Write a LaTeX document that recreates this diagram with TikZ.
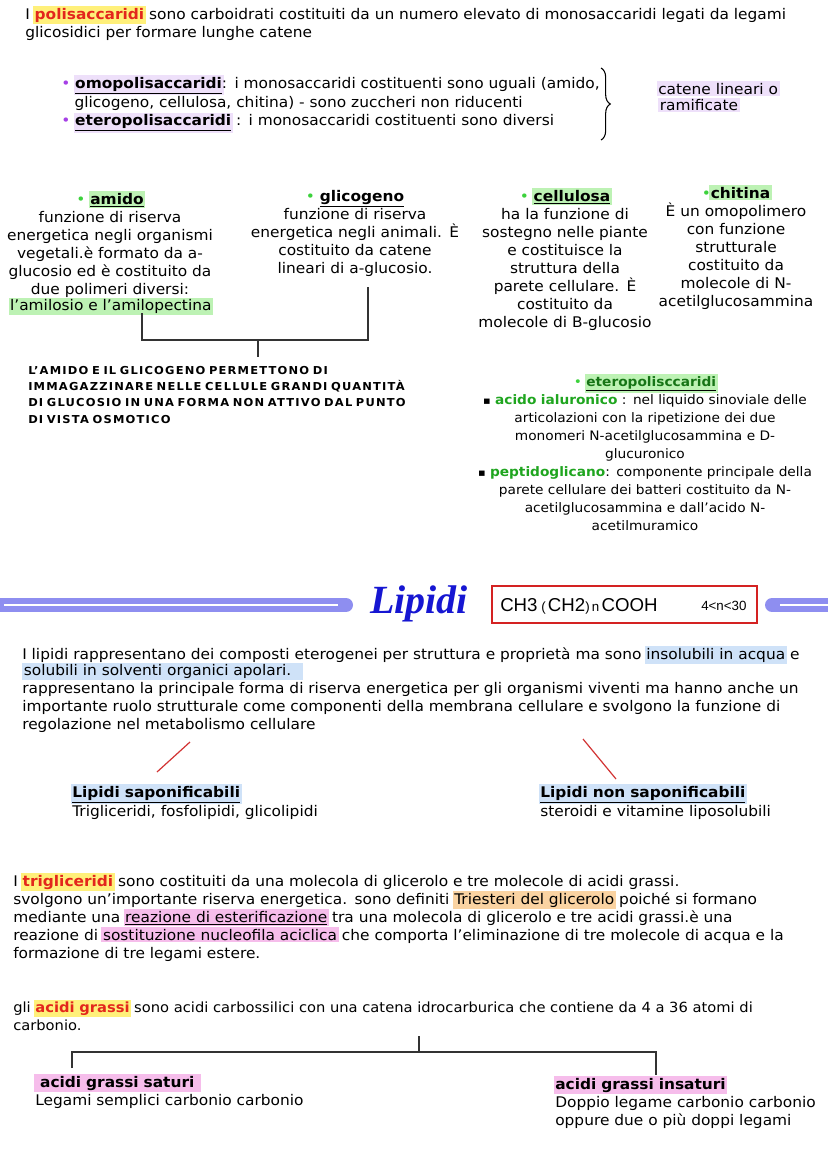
\documentclass[tikz,border=0pt]{standalone}
\usepackage{fontspec}
\setmainfont{DejaVu Sans}[FakeStretch=1.05]
\newfontfamily\lipidfont{Liberation Serif}
\newfontfamily\formfont{Liberation Sans}
\usetikzlibrary{decorations.pathreplacing}
\definecolor{termred}{HTML}{E3261C}
\definecolor{hlyellow}{HTML}{FFF07A}
\definecolor{bulpurple}{HTML}{A640E6}
\definecolor{hlpurple}{HTML}{EEE0FA}
\definecolor{hlgreen}{HTML}{BDF2B4}
\definecolor{tgreen}{HTML}{1FA51F}
\definecolor{bulgreen}{HTML}{3CD23C}
\definecolor{hlblue}{HTML}{CFE2F8}
\definecolor{hlorange}{HTML}{FAD3A2}
\definecolor{hlpink}{HTML}{F6BDEB}
\definecolor{bandcol}{HTML}{8E8EF0}
\definecolor{lipblue}{HTML}{1616D2}
\definecolor{boxred}{HTML}{D42222}
\definecolor{linered}{HTML}{D23434}
\newcommand\hlbox[2]{\begingroup\setlength\fboxsep{1.2pt}\kern-1.2pt\colorbox{#1}{#2}\kern-1.2pt\endgroup}
\newcommand\term[1]{\textcolor{termred}{\bfseries #1}}
\newcommand\sqbul{{\fontsize{8}{8}\selectfont ▪}}
\tikzset{
  body/.style={inner sep=0pt, font=\fontsize{11}{13.5}\selectfont},
  leftpar/.style={body, anchor=base west, align=left, text width=640pt},
  colpar/.style={body, anchor=base, align=center, text width=200pt},
  capspar/.style={inner sep=0pt, anchor=base west, align=left, text width=400pt,
     font=\fontsize{8.2}{12.3}\selectfont\bfseries\addfontfeature{LetterSpace=11}},
  conn/.style={draw=black!80, line width=0.8pt},
  redconn/.style={draw=linered, line width=0.9pt},
}
\begin{document}
\begin{tikzpicture}[x=0.75pt,y=-0.75pt]
\useasboundingbox[fill=white] (0,0) rectangle (828,1171);

% --- polisaccaridi
\node[leftpar] (poli) at (25,19) {I \hlbox{hlyellow}{\term{polisaccaridi}} sono carboidrati costituiti da un numero elevato di monosaccaridi legati da legami\\glicosidici per formare lunghe catene};

\node[leftpar] (omo) at (61,88) {\textcolor{bulpurple}{•}\ \hlbox{hlpurple}{\underline{\bfseries omopolisaccaridi}}: i monosaccaridi costituenti sono uguali (amido,\\\hspace*{10pt}glicogeno, cellulosa, chitina) - sono zuccheri non riducenti\\\textcolor{bulpurple}{•}\ \hlbox{hlpurple}{\underline{\bfseries eteropolisaccaridi}} : i monosaccaridi costituenti sono diversi};
\coordinate (brT) at (601,68);
\coordinate (brB) at (601,140);
\draw[line width=0.8pt, decorate, decoration={brace, amplitude=7pt}] (brT) -- (brB);
\node[leftpar] (catene) at (658,94) {\hlbox{hlpurple}{catene lineari o}\\\hlbox{hlpurple}{ramificate}};

% --- four columns
\node[colpar] (amido) at (110,204) {\textcolor{bulgreen}{•} \hlbox{hlgreen}{\underline{\bfseries amido}}\\funzione di riserva\\energetica negli organismi\\vegetali.è formato da  a-\\glucosio ed è costituito da\\due polimeri diversi:\\\hlbox{hlgreen}{l'amilosio e l'amilopectina}};
\node[colpar] (glic) at (355,201) {\textcolor{bulgreen}{•} \underline{\bfseries glicogeno}\\funzione di riserva\\energetica negli animali. È\\costituito da catene\\lineari di  a-glucosio.};
\node[colpar] (cell) at (565,201) {\textcolor{bulgreen}{•} \hlbox{hlgreen}{\underline{\bfseries cellulosa}}\\ha la funzione di\\sostegno nelle piante\\e costituisce la\\struttura della\\parete cellulare. È\\costituito da\\molecole di B-glucosio};
\node[colpar] (chit) at (736,198) {\textcolor{bulgreen}{•}\hlbox{hlgreen}{\bfseries chitina}\\È un omopolimero\\con funzione\\strutturale\\costituito da\\molecole di  N-\\acetilglucosammina};

\coordinate (aT) at (142,313);
\coordinate (gT) at (368,287);
\coordinate (mid) at (258,340);
\coordinate (stem) at (258,357);
\draw[conn] (aT) |- (mid) -| (gT);
\draw[conn] (mid) -- (stem);

\node[capspar] (amidoglic) at (28,374) {L'AMIDO E IL GLICOGENO PERMETTONO DI\\IMMAGAZZINARE NELLE CELLULE GRANDI QUANTITÀ\\DI GLUCOSIO IN UNA FORMA NON ATTIVO DAL PUNTO\\DI VISTA OSMOTICO};

\node[colpar, text width=260pt, font=\fontsize{9.8}{13.5}\selectfont] (etero) at (645,386) {\textcolor{bulgreen}{•} \hlbox{hlgreen}{\underline{\textcolor{tgreen!70!black}{\bfseries eteropolisccaridi}}}\\\sqbul\ \textcolor{tgreen}{\bfseries acido ialuronico} : nel liquido sinoviale delle\\articolazioni con la ripetizione dei due\\monomeri N-acetilglucosammina e D-\\glucuronico\\\sqbul\ \textcolor{tgreen}{\bfseries peptidoglicano}: componente principale della\\parete cellulare dei batteri costituito da N-\\acetilglucosammina  e dall'acido N-\\acetilmuramico};

% --- Lipidi band
\draw[bandcol, line width=10.5pt, line cap=round] (-20,605) -- (346,605);
\draw[white, line width=1.4pt] (4,605) -- (338,605);
\draw[bandcol, line width=10.5pt, line cap=round] (772,605) -- (850,605);
\draw[white, line width=1.4pt] (780,605) -- (850,605);
\node[inner sep=0pt, text=lipblue, font=\lipidfont\fontsize{30}{30}\selectfont\bfseries\itshape] (lipidi) at (419,604) {Lipidi};
\node[draw=boxred, line width=1.1pt, minimum width=198.75pt, minimum height=27.75pt, inner sep=0pt] (formbox) at (624.5,604.5) {};
\node[inner sep=0pt, anchor=base west, font=\formfont\fontsize{14}{14}\selectfont] (formula) at (500,611) {CH3{\fontsize{10}{10}\selectfont\ (\,}CH2{\fontsize{10}{10}\selectfont)\,n\,}COOH};
\node[inner sep=0pt, anchor=base west, font=\formfont\fontsize{10}{10}\selectfont] (range) at (701,610) {4<n<30};

% --- lipidi paragraph
\node[leftpar] (lippar) at (22,659) {I lipidi rappresentano dei composti eterogenei per struttura e proprietà ma sono \hlbox{hlblue}{insolubili in acqua} e\\\hlbox{hlblue}{solubili in solventi organici apolari.\ \ }\\rappresentano la principale forma di riserva energetica per gli organismi viventi ma hanno anche un\\importante ruolo strutturale come componenti della membrana cellulare e svolgono la funzione di\\regolazione nel metabolismo cellulare};
\coordinate (r1a) at (190,742);
\coordinate (r1b) at (157,772);
\coordinate (r2a) at (583,739);
\coordinate (r2b) at (616,779);
\draw[redconn] (r1a) -- (r1b);
\draw[redconn] (r2a) -- (r2b);
\node[leftpar] (sap) at (72,797) {\hlbox{hlblue}{\underline{\bfseries Lipidi saponificabili}}\\Trigliceridi, fosfolipidi, glicolipidi};
\node[leftpar] (nonsap) at (540,797) {\hlbox{hlblue}{\underline{\bfseries Lipidi non saponificabili}}\\steroidi e vitamine liposolubili};

% --- trigliceridi
\node[leftpar] (trig) at (13,886) {I \hlbox{hlyellow}{\term{trigliceridi}} sono costituiti da una molecola di glicerolo e tre molecole di acidi grassi.\\svolgono un'importante riserva energetica. sono definiti \hlbox{hlorange}{Triesteri del glicerolo} poiché si formano\\mediante una \hlbox{hlpink}{\underline{reazione di esterificazione}} tra una molecola di glicerolo e tre acidi grassi.è una\\reazione di \hlbox{hlpink}{sostituzione nucleofila aciclica} che comporta l'eliminazione di tre molecole di acqua e la\\formazione di tre legami estere.};

% --- acidi grassi
\node[leftpar, font=\fontsize{10.5}{13.5}\selectfont] (acidi) at (13,1012) {gli \hlbox{hlyellow}{\term{acidi grassi}} sono acidi carbossilici con una catena idrocarburica che contiene da 4 a 36 atomi di\\carbonio.};
\coordinate (tT) at (419,1036);
\coordinate (tM) at (419,1052);
\coordinate (tL) at (72,1068);
\coordinate (tR) at (656,1075);
\draw[conn] (tT) -- (tM);
\draw[conn] (tL) |- (tM) -| (tR);
\node[leftpar] (sat) at (35,1087) {\hlbox{hlpink}{\bfseries\ acidi grassi saturi\ }\\Legami semplici carbonio carbonio};
\node[leftpar] (insat) at (555,1089) {\hlbox{hlpink}{\bfseries acidi grassi insaturi}\\Doppio legame carbonio carbonio\\oppure due o più doppi legami};
\end{tikzpicture}
\end{document}
